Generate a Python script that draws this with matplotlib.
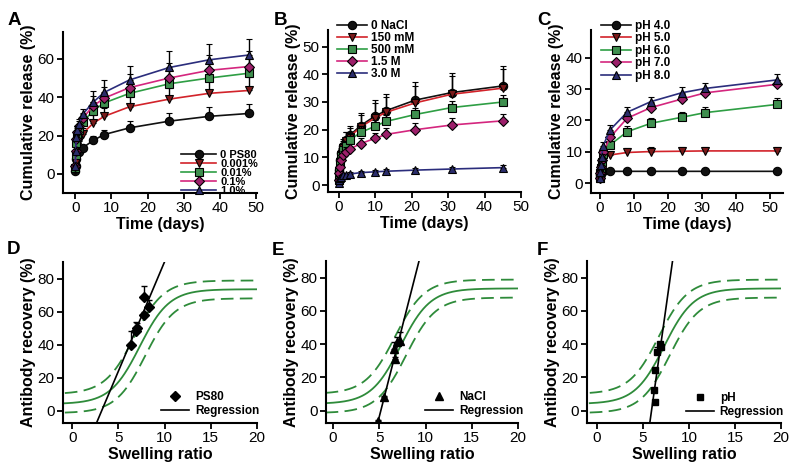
import numpy as np
import matplotlib
matplotlib.use('Agg')
import matplotlib.pyplot as plt
from matplotlib.lines import Line2D

plt.rcParams['font.family'] = ['Liberation Sans', 'DejaVu Sans']

# ---------------- data ----------------
# Panel A: PS80
timeA = [0, 0.1, 0.25, 0.5, 1, 2, 5, 8, 15, 26, 37, 48]
labelsA = ['0 PS80', '0.001%', '0.01%', '0.1%', '1.0%']
relA_0 = [1.5, 4, 8, 11, 11.5, 13.5, 17.5, 20.5, 24, 27.5, 30, 31.5]
relA_1 = [2, 6, 10, 14, 17, 21, 26.5, 30, 35, 39, 42, 43.5]
relA_2 = [3, 10, 16, 20, 23, 27, 33, 37, 42, 47, 50, 52.5]
relA_3 = [4, 12, 18, 22, 25, 29, 35.5, 39.5, 45, 50, 54, 56]
relA_4 = [4, 12, 19, 23, 26, 31, 37.5, 42.5, 49, 55.5, 59.5, 62]
errA_0 = [0.5, 0.5, 1, 1, 1.5, 1.5, 2, 2.5, 3.5, 4.5, 5, 4.8]
errA_1 = [0.5, 1, 1.5, 2, 2.5, 3, 4, 4.5, 5, 6, 6.5, 7]
errA_2 = [0.5, 1, 1.5, 2, 2.5, 3, 4.5, 5, 6, 7, 7.5, 8]
errA_3 = [0.5, 1, 1.5, 2, 2.5, 3, 5, 6, 7, 8, 8, 8]
errA_4 = [0.5, 1, 1.5, 2, 2.5, 3, 5.5, 6.5, 7.5, 8.5, 8.5, 8.5]

# Panel B: NaCl
timeB = [0, 0.1, 0.25, 0.5, 1, 2, 3, 6, 10, 13, 21, 31, 45]
labelsB = ['0 NaCl', '150 mM', '500 mM', '1.5 M', '3.0 M']
relB_0 = [2, 5.5, 9, 11.5, 14, 16.3, 18, 21.5, 25, 26.9, 30.7, 33.4, 35.8]
relB_1 = [2, 5, 8.5, 11, 13.5, 16, 17.5, 21, 24.3, 26.3, 29.7, 32.8, 35]
relB_2 = [2, 5, 8, 10.5, 12.5, 14.2, 16.3, 19, 21.3, 23, 25.5, 28, 30]
relB_3 = [1.8, 4.2, 6.6, 9, 10.8, 12, 13, 15, 16.9, 18.3, 20, 21.7, 23.2]
relB_4 = [0.8, 1.8, 2.4, 3, 3.6, 3.6, 4, 4.5, 4.8, 5, 5.4, 5.8, 6.3]
errB_0 = [0.5, 1, 1.5, 2, 2.5, 3, 3.3, 4.5, 5.7, 6, 6.6, 7.2, 7.3]
errB_1 = [0.5, 1, 1.5, 2, 2.5, 3, 3.2, 4.2, 5.2, 5.6, 6, 6.5, 6.8]
errB_2 = [0.5, 0.8, 1, 1.2, 1.5, 1.8, 2, 2.2, 2.3, 2.4, 2.5, 2.5, 2.6]
errB_3 = [0.5, 0.8, 1, 1.2, 1.5, 1.6, 1.8, 2, 2, 2.2, 2.3, 2.4, 2.6]
errB_4 = [0.3, 0.4, 0.5, 0.5, 0.5, 0.5, 0.6, 0.6, 0.7, 0.7, 0.7, 0.8, 0.8]

# Panel C: pH
timeC = [0, 0.1, 0.25, 0.5, 1, 3, 8, 15, 24, 31, 52]
labelsC = ['pH 4.0', 'pH 5.0', 'pH 6.0', 'pH 7.0', 'pH 8.0']
relC_0 = [1.8, 2.5, 3, 3.5, 3.8, 3.8, 3.8, 3.8, 3.8, 3.8, 3.8]
relC_1 = [1.6, 3.2, 4.8, 6.4, 8, 9, 9.8, 10.1, 10.2, 10.3, 10.3]
relC_2 = [1.6, 3.2, 4.8, 6.9, 9.2, 12.2, 16.4, 19.1, 21, 22.5, 25.1]
relC_3 = [1.6, 3.4, 5.3, 7.4, 10, 14.6, 20.7, 24.1, 26.8, 28.8, 31.5]
relC_4 = [1.6, 3.7, 5.8, 8.5, 12, 17, 22.6, 26, 28.8, 30.2, 32.9]
errC_0 = [0.2, 0.2, 0.2, 0.2, 0.3, 0.3, 0.3, 0.3, 0.3, 0.3, 0.3]
errC_1 = [0.3, 0.4, 0.5, 0.6, 0.8, 1.2, 1.3, 1.4, 1.4, 1.4, 1.4]
errC_2 = [0.3, 0.4, 0.5, 0.7, 0.9, 1.3, 1.8, 1.8, 1.8, 1.9, 2]
errC_3 = [0.3, 0.4, 0.5, 0.7, 0.9, 1.3, 1.5, 1.5, 1.5, 1.5, 1.5]
errC_4 = [0.3, 0.4, 0.5, 0.7, 1, 1.4, 1.6, 1.6, 1.7, 1.8, 1.9]

# Panels D-F: swelling ratio vs antibody recovery
swellD = [6.4, 6.85, 7.0, 7.8, 7.75, 8.3]
recovD = [40, 48, 50, 58, 69, 63]
errD = [8, 5.5, 3, 2, 6.6, 4]
swellE = [4.9, 5.5, 6.7, 6.6, 6.9, 7.2]
recovE = [-6, 8, 31, 37, 41, 42]
errE = [0.5, 1, 1.5, 4, 3, 5]
swellF = [6.35, 6.2, 6.35, 6.5, 6.8, 7.0]
recovF = [5, 12.5, 24.5, 35, 40, 38]
errF = [0.5, 0.5, 0.5, 3, 1, 1]
# regression lines (slope, intercept)
regD = (13.25, -42.3)
regE = (21.8, -112.7)
regF = (39.4, -233.2)
# sigmoidal model fit and band: (bottom, top, x50, width)
fit_mid = (4.0, 73.5, 7.3, 1.6)
fit_up = (10.0, 78.8, 6.7, 1.6)
fit_lo = (-1.5, 68.0, 7.9, 1.6)
labelsDEF = ['PS80', 'NaCl', 'pH']

# ---------------- style ----------------
line_colors = ['#111111', '#d2232a', '#2e9e44', '#d4267e', '#2b2d7c']
fill_colors = ['#111111', '#7a1a1a', '#3f8f4f', '#9c1f6a', '#2b2d6c']
markers = ['o', 'v', 's', 'D', '^']
msizes = [6, 6, 5.5, 5, 6]
green = '#2e8b3a'

W, H = 800, 474
fig = plt.figure(figsize=(W / 100, H / 100), dpi=100)


def ax_at(l, r, t, b):
    return fig.add_axes([l / W, 1 - b / H, (r - l) / W, (b - t) / H])


def style(ax):
    for s in ['top', 'right']:
        ax.spines[s].set_visible(False)
    for s in ['left', 'bottom']:
        ax.spines[s].set_linewidth(1.5)
    ax.tick_params(direction='out', length=4, width=1.3, labelsize=11, pad=2)


def fpx(x, y):
    return (x / W, 1 - y / H)


def release_panel(ax, t, series, errs, labels):
    for i, (v, e) in enumerate(zip(series, errs)):
        ax.errorbar(t, v, yerr=[np.zeros(len(e)), e], fmt='-', color=line_colors[i],
                    lw=1.2, marker=markers[i], ms=msizes[i], mfc=fill_colors[i],
                    mec='black', mew=0.8, ecolor='black', elinewidth=1,
                    capsize=2.5, capthick=1, zorder=2 + i)
    handles = [Line2D([], [], color=line_colors[i], lw=1.2, marker=markers[i],
                      ms=msizes[i], mfc=fill_colors[i], mec='black', mew=0.8)
               for i in range(len(labels))]
    return handles


def logistic(x, p):
    a, b, x0, w = p
    return a + (b - a) / (1 + np.exp(-(x - x0) / w))


# Panel A
axA = ax_at(63, 257, 32, 193)
hA = release_panel(axA, timeA, [relA_0, relA_1, relA_2, relA_3, relA_4],
                   [errA_0, errA_1, errA_2, errA_3, errA_4], labelsA)
axA.set_xlim(-3.4, 50.2)
axA.set_ylim(-10, 74)
axA.set_xticks([0, 10, 20, 30, 40, 50])
axA.set_yticks([0, 20, 40, 60])
axA.legend(hA, labelsA, loc='lower right', bbox_to_anchor=fpx(258, 196),
           bbox_transform=fig.transFigure, frameon=False, borderpad=0,
           borderaxespad=0, prop={'weight': 'bold', 'size': 8},
           labelspacing=-0.08, handlelength=3.2, handletextpad=0.35)

# Panel B
axB = ax_at(328, 521, 30, 192)
hB = release_panel(axB, timeB, [relB_0, relB_1, relB_2, relB_3, relB_4],
                   [errB_0, errB_1, errB_2, errB_3, errB_4], labelsB)
axB.set_xlim(-3, 50)
axB.set_ylim(-2.5, 56)
axB.set_xticks([0, 10, 20, 30, 40, 50])
axB.set_yticks([0, 10, 20, 30, 40, 50])
axB.legend(hB, labelsB, loc='upper left', bbox_to_anchor=fpx(337, 20),
           bbox_transform=fig.transFigure, frameon=False, borderpad=0,
           borderaxespad=0, prop={'weight': 'bold', 'size': 8.5},
           labelspacing=0.0, handlelength=2.5, handletextpad=0.4)

# Panel C
axC = ax_at(591, 783, 30, 193)
hC = release_panel(axC, timeC, [relC_0, relC_1, relC_2, relC_3, relC_4],
                   [errC_0, errC_1, errC_2, errC_3, errC_4], labelsC)
axC.set_xlim(-2.6, 53.8)
axC.set_ylim(-3.1, 48.8)
axC.set_xticks([0, 10, 20, 30, 40, 50])
axC.set_yticks([0, 10, 20, 30, 40])
axC.legend(hC, labelsC, loc='upper left', bbox_to_anchor=fpx(601, 20),
           bbox_transform=fig.transFigure, frameon=False, borderpad=0,
           borderaxespad=0, prop={'weight': 'bold', 'size': 8.5},
           labelspacing=0.04, handlelength=2.5, handletextpad=0.4)

for ax in (axA, axB, axC):
    style(ax)
    ax.set_xlabel('Time (days)', fontsize=11.5, fontweight='bold', labelpad=1)
    ax.set_ylabel('Cumulative release (%)', fontsize=11.5, fontweight='bold', labelpad=1)

# Panels D-F
boxes = [(63, 257, 262, 423), (326, 518, 261, 423), (587, 781, 261, 423)]
xl = [(-1, 20), (-0.76, 20), (-1.1, 20)]
swells = [swellD, swellE, swellF]
recovs = [recovD, recovE, recovF]
errsDEF = [errD, errE, errF]
regs = [regD, regE, regF]
mk = ['D', '^', 's']
mks = [5, 5.5, 5]
anchors = [(259, 417), (523, 417), (784, 418)]
axs2 = []
for k in range(3):
    ax = ax_at(*boxes[k])
    axs2.append(ax)
    xs = np.linspace(-0.8, 20, 300)
    ax.plot(xs, logistic(xs, fit_mid), color=green, lw=1.3, zorder=1)
    ax.plot(xs, logistic(xs, fit_up), color=green, lw=1.3, dashes=(7, 3.5), zorder=1)
    ax.plot(xs, logistic(xs, fit_lo), color=green, lw=1.3, dashes=(7, 3.5), zorder=1)
    slope, icpt = regs[k]
    ax.axline((0, icpt), slope=slope, color='black', lw=1.2, zorder=2)
    ax.errorbar(swells[k], recovs[k], yerr=[np.zeros(len(errsDEF[k])), errsDEF[k]],
                fmt=mk[k], color='black', ms=mks[k], ecolor='black', elinewidth=1,
                capsize=2.5, capthick=1, zorder=3)
    ax.set_xlim(*xl[k])
    ax.set_ylim(-7.5, 90)
    ax.set_xticks([0, 5, 10, 15, 20])
    ax.set_yticks([0, 20, 40, 60, 80])
    style(ax)
    ax.set_xlabel('Swelling ratio', fontsize=11.5, fontweight='bold', labelpad=1)
    ax.set_ylabel('Antibody recovery (%)', fontsize=11.5, fontweight='bold', labelpad=1)
    hm = Line2D([], [], ls='none', marker=mk[k], color='black', ms=mks[k])
    hl = Line2D([], [], color='black', lw=1.2)
    ax.legend([hm, hl], [labelsDEF[k], 'Regression'], loc='lower right',
              bbox_to_anchor=fpx(*anchors[k]), bbox_transform=fig.transFigure,
              frameon=False, borderpad=0, borderaxespad=0,
              prop={'weight': 'bold', 'size': 8.5}, labelspacing=0.15,
              handlelength=2.4, handletextpad=0.5)

# panel letters
letters = [('A', 8, 12), ('B', 274, 12), ('C', 537, 12),
           ('D', 7, 241), ('E', 272, 242), ('F', 537, 242)]
for s, x, y in letters:
    fig.text(x / W, 1 - y / H, s, fontsize=13.5, fontweight='bold', va='top', ha='left')

fig.savefig('out.png', dpi=100)
